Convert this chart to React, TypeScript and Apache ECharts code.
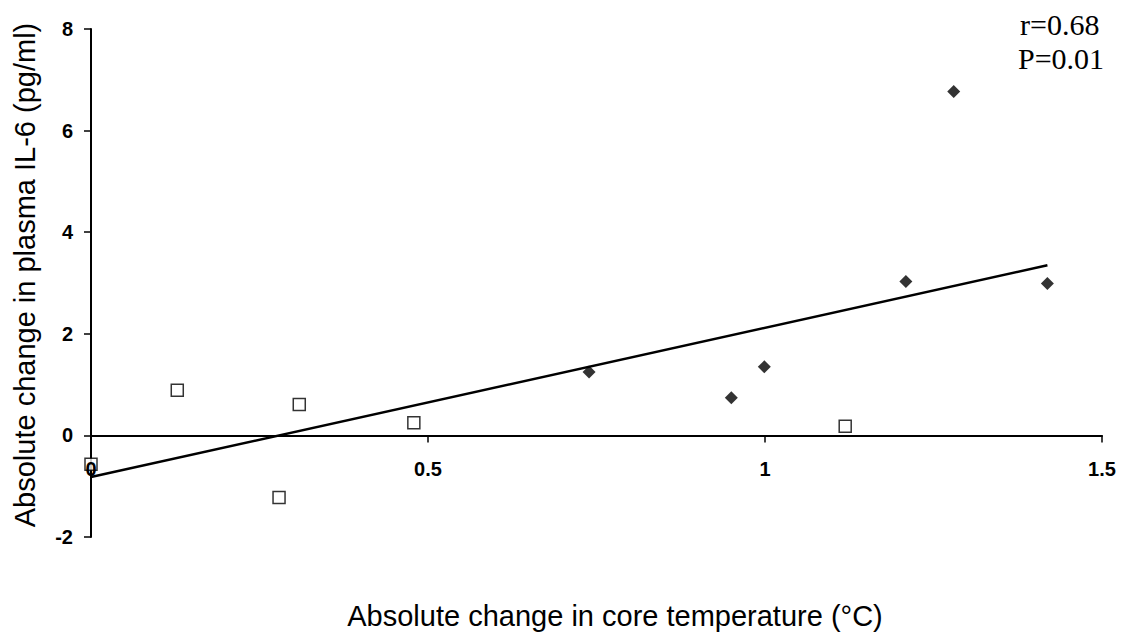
import React, { useEffect, useRef } from "react";
import * as echarts from "echarts";

// Open squares (one group) and filled diamonds (other group)
const squareX = [0, 0.128, 0.279, 0.309, 0.479, 1.119];
const squareY = [-0.57, 0.89, -1.22, 0.61, 0.25, 0.18];
const diamondX = [0.739, 0.95, 0.999, 1.209, 1.28, 1.419];
const diamondY = [1.25, 0.74, 1.35, 3.03, 6.77, 2.99];
// Regression line end points
const fitX = [0, 1.419];
const fitY = [-0.82, 3.35];

const xTicks = [0, 0.5, 1, 1.5];
const yTicks = [-2, 0, 2, 4, 6, 8];

const xTitle = "Absolute change in core temperature (°C)";
const yTitle = "Absolute change in plasma IL-6 (pg/ml)";
const statLines = ["r=0.68", "P=0.01"];

const SANS = "'Liberation Sans', Arial, sans-serif";
const SERIF = "'Liberation Serif', 'Times New Roman', serif";

const GRID_TOP = 29;
const GRID_BOTTOM = 101;
const CHART_H = 638;

export default function App() {
  const ref = useRef<HTMLDivElement>(null);
  useEffect(() => {
    if (!ref.current) return;
    const chart = echarts.init(ref.current, null, { renderer: "svg" });
    const zip = (xs: number[], ys: number[]) => xs.map((x, i) => [x, ys[i]]);
    const yMin = yTicks[0];
    const yMax = yTicks[yTicks.length - 1];
    const plotH = CHART_H - GRID_TOP - GRID_BOTTOM;
    // shift the x axis (line, ticks, labels) up to the y = 0 level
    const zeroOffset = -(plotH * (0 - yMin)) / (yMax - yMin);
    chart.setOption({
      animation: false,
      backgroundColor: "#ffffff",
      grid: { left: 91, right: 21, top: GRID_TOP, bottom: GRID_BOTTOM, containLabel: false },
      xAxis: {
        type: "value",
        position: "bottom",
        offset: zeroOffset,
        z: 6,
        min: xTicks[0],
        max: xTicks[xTicks.length - 1],
        interval: 0.5,
        axisLine: { show: true, onZero: false, lineStyle: { color: "#000", width: 2 } },
        axisTick: { show: true, inside: false, length: 7, lineStyle: { color: "#000", width: 1.5 } },
        axisLabel: {
          show: true,
          margin: 24,
          color: "#000",
          fontFamily: SANS,
          fontWeight: "bold",
          fontSize: 20,
          formatter: (v: number) => String(v),
        },
        splitLine: { show: false },
      },
      yAxis: {
        type: "value",
        min: yMin,
        max: yMax,
        interval: 2,
        axisLine: { show: true, onZero: false, lineStyle: { color: "#000", width: 2 } },
        axisTick: { show: true, inside: false, length: 7, lineStyle: { color: "#000", width: 1.5 } },
        axisLabel: {
          show: true,
          margin: 18,
          color: "#000",
          fontFamily: SANS,
          fontWeight: "bold",
          fontSize: 20,
        },
        splitLine: { show: false },
      },
      graphic: [
        {
          type: "text",
          x: 25,
          y: 275,
          rotation: Math.PI / 2,
          style: {
            text: yTitle,
            fill: "#000",
            font: `29px ${SANS}`,
            textAlign: "center",
            textVerticalAlign: "middle",
          },
        },
        {
          type: "text",
          x: 615,
          y: 616,
          style: {
            text: xTitle,
            fill: "#000",
            font: `29px ${SANS}`,
            textAlign: "center",
            textVerticalAlign: "middle",
          },
        },
        {
          type: "text",
          x: 1020,
          y: 24,
          style: {
            text: statLines[0],
            fill: "#000",
            font: `30px ${SERIF}`,
            textAlign: "left",
            textVerticalAlign: "middle",
          },
        },
        {
          type: "text",
          x: 1018,
          y: 58,
          style: {
            text: statLines[1],
            fill: "#000",
            font: `30px ${SERIF}`,
            textAlign: "left",
            textVerticalAlign: "middle",
          },
        },
      ],
      series: [
        {
          type: "line",
          data: zip(fitX, fitY),
          showSymbol: false,
          symbol: "none",
          lineStyle: { color: "#000", width: 2.5 },
          z: 3,
        },
        {
          type: "scatter",
          data: zip(squareX, squareY),
          symbol: "rect",
          symbolSize: 12,
          itemStyle: { color: "#fff", borderColor: "#000", borderWidth: 1.5 },
          z: 4,
        },
        {
          type: "scatter",
          data: zip(diamondX, diamondY),
          symbol: "diamond",
          symbolSize: 13,
          itemStyle: { color: "#000" },
          z: 4,
        },
      ],
    });
    return () => chart.dispose();
  }, []);
  return (
    <div
      ref={ref}
      style={{ position: "fixed", left: 0, top: 0, width: 1123, height: 638, background: "#fff" }}
    />
  );
}
